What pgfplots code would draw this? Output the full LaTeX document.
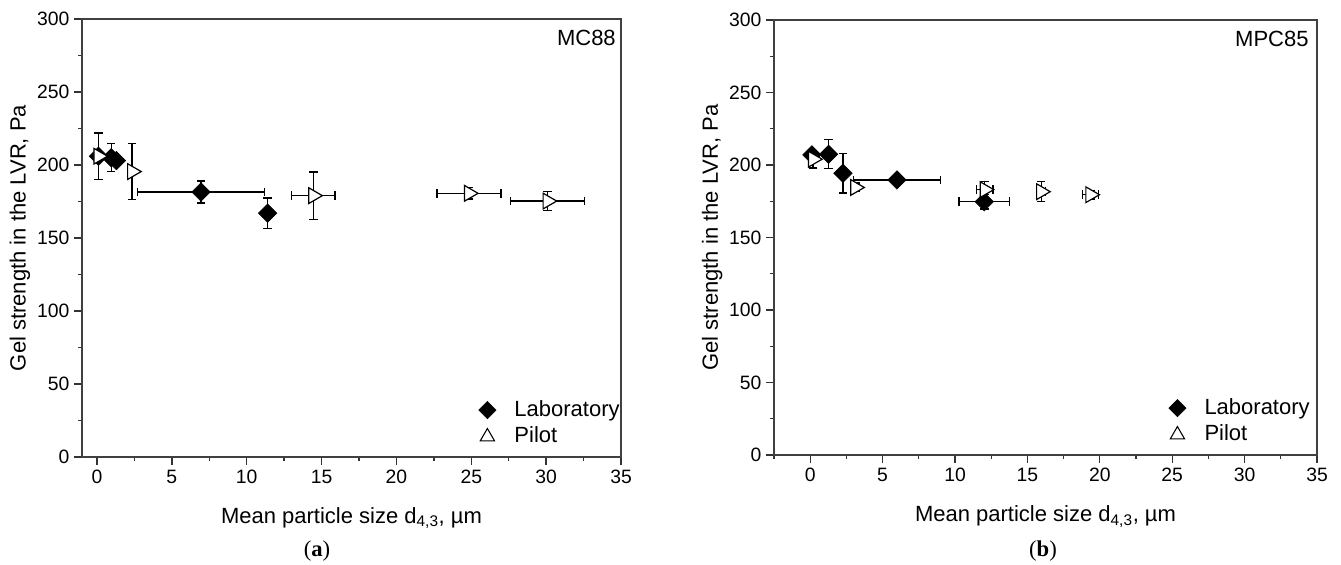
\documentclass[border=0pt]{standalone}
\usepackage{fontspec}
\setmainfont{Liberation Sans}
\newfontfamily\seriffont{Liberation Serif}
\usepackage{pgfplots}
\usepackage{pgfplotstable}
\pgfplotsset{compat=1.18}

% Panel (a) MC88
\pgfplotstableread{
x y ex ey
0.10 206.0 0 0
0.95 205.0 0 9.5
1.30 203.0 0 0
6.95 181.5 4.25 7.5
11.40 167.0 0 10.5
}\labA
\pgfplotstableread{
x y ex ey
0.10 206.0 0 16
2.35 195.5 0 19
14.45 179.0 1.45 16.3
24.85 180.6 2.14 4
30.10 175.3 2.46 6.6
}\pilA
% Panel (b) MPC85
\pgfplotstableread{
x y ex ey
0.12 207.0 0 0
1.27 207.4 0 10
2.26 194.3 0 13.5
5.99 189.7 3.0 0
12.02 174.7 1.75 5
}\labB
\pgfplotstableread{
x y ex ey
0.20 204.0 0 6
3.11 184.5 0.2 3
12.05 183.0 0.57 5.6
15.95 181.6 0.3 6.9
19.35 179.5 0.55 3
}\pilB

\pgfplotsset{
 myaxis/.style={
  scale only axis,
  ymin=0, ymax=300, xmax=35,
  xtick={0,5,...,35}, ytick={0,50,...,300},
  minor ytick={25,75,...,275},
  tick pos=left, tick align=outside,
  major tick length=6pt, minor tick length=3pt,
  every tick/.style={black!80, line width=1pt},
  axis line style={black!75, line width=1.2pt},
  ticklabel style={font=\fontsize{14.5}{16}\selectfont},
  /pgf/number format/assume math mode=true,
  ylabel={Gel strength in the LVR, Pa},
  xlabel={Mean particle size d\textsubscript{4,3}, µm},
  legend cell align=left,
  legend image code/.code={\path (0cm,-1pt) (0.55cm,1pt); \draw[##1] plot coordinates {(0.3cm,0cm)};},
  legend style={draw=none, fill=none, inner sep=0pt,
    font=\fontsize{16.5}{19}\selectfont,
    nodes={text height=12pt, text depth=3pt, inner ysep=2.5pt, inner xsep=0pt},
    row sep=0pt, column sep=13pt},
 },
 lab/.style={only marks, color=black, mark=square*,
   mark options={rotate=45, fill=black, draw=black, mark size=4.9pt},
   error bars/x dir=both, error bars/x explicit,
   error bars/y dir=both, error bars/y explicit,
   error bars/error bar style={line width=1pt, black},
   error bars/error mark options={rotate=90, black, line width=1pt, mark size=3.2pt}},
 pil/.style={only marks, color=black, mark=triangle*,
   mark options={rotate=-90, fill=white, draw=black, line width=0.9pt, mark size=6.8pt},
   error bars/x dir=both, error bars/x explicit,
   error bars/y dir=both, error bars/y explicit,
   error bars/error bar style={line width=1pt, black},
   error bars/error mark options={rotate=90, black, line width=1pt, mark size=3.2pt}},
}

\begin{document}
\begin{tikzpicture}
\useasboundingbox (0,0) rectangle (1005.75pt,423pt);

\begin{axis}[myaxis,
  at={(61.5pt,80.25pt)}, anchor=south west,
  width=404.25pt, height=328.5pt,
  xmin=-1,
  minor xtick={2.5,7.5,...,32.5},
  every axis y label/.style={at={(axis description cs:-0.115,0.5)}, rotate=90, anchor=center, font=\fontsize{16.5}{19}\selectfont},
  every axis x label/.style={at={(axis description cs:0.5,-0.151)}, anchor=base, font=\fontsize{16.5}{19}\selectfont},
  legend style={at={(axis description cs:0.998,0.0152)}, anchor=south east},
]
\addplot[lab, forget plot] table[x=x, y=y, x error=ex, y error=ey] {\labA};
\addplot[pil, forget plot] table[x=x, y=y, x error=ex, y error=ey] {\pilA};
\addlegendimage{only marks, mark=square*, mark options={rotate=45, fill=black, draw=black, mark size=4.6pt}}
\addlegendentry{Laboratory}
\addlegendimage{only marks, mark=triangle, mark options={fill=white, draw=black, line width=0.8pt, mark size=6.2pt}}
\addlegendentry{Pilot}
\node[anchor=base east, inner sep=0pt, font=\fontsize{16.5}{19}\selectfont] at (rel axis cs:0.9907,0.9406) {MC88};
\end{axis}

\begin{axis}[myaxis,
  at={(580.5pt,81.75pt)}, anchor=south west,
  width=407.25pt, height=326.25pt,
  xmin=-2.5,
  minor xtick={-2.5,2.5,...,32.5},
  every axis y label/.style={at={(axis description cs:-0.114,0.5)}, rotate=90, anchor=center, font=\fontsize{16.5}{19}\selectfont},
  every axis x label/.style={at={(axis description cs:0.5,-0.154)}, anchor=base, font=\fontsize{16.5}{19}\selectfont},
  legend style={at={(axis description cs:0.987,0.0152)}, anchor=south east},
]
\addplot[lab, forget plot] table[x=x, y=y, x error=ex, y error=ey] {\labB};
\addplot[pil, forget plot] table[x=x, y=y, x error=ex, y error=ey] {\pilB};
\addlegendimage{only marks, mark=square*, mark options={rotate=45, fill=black, draw=black, mark size=4.6pt}}
\addlegendentry{Laboratory}
\addlegendimage{only marks, mark=triangle, mark options={fill=white, draw=black, line width=0.8pt, mark size=6.2pt}}
\addlegendentry{Pilot}
\node[anchor=base east, inner sep=0pt, font=\fontsize{16.5}{19}\selectfont] at (rel axis cs:0.985,0.938) {MPC85};
\end{axis}

\node[font=\seriffont\fontsize{17}{19}\selectfont] at (237.75pt,9.75pt) {(\textbf{a})};
\node[font=\seriffont\fontsize{17}{19}\selectfont] at (782.25pt,9.75pt) {(\textbf{b})};
\end{tikzpicture}
\end{document}
